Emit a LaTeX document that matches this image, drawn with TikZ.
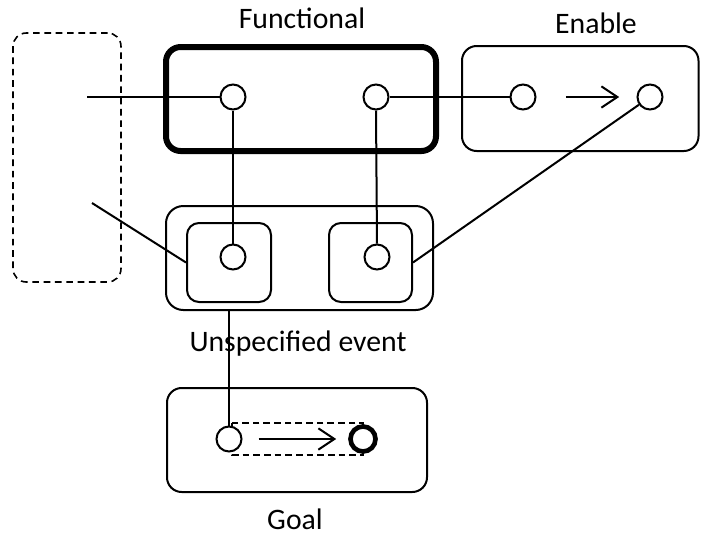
\documentclass[tikz,border=0pt]{standalone}
\usepackage{fontspec}
\setmainfont{Carlito}
\usetikzlibrary{fit,arrows.meta}
\begin{document}
\begin{tikzpicture}[x=0.75pt,y=-0.75pt,
  every path/.style={line width=1.5pt},
  frame/.style={draw, rectangle, rounded corners=11pt, inner sep=0pt, line width=1.5pt},
  smallframe/.style={frame, rounded corners=9pt},
  outline/.style={frame, dashed, dash pattern=on 5pt off 3.5pt, line width=1.2pt, rounded corners=10pt},
  heavy/.style={frame, line width=4.5pt},
  port/.style={draw, circle, fill=white, minimum size=18.75pt, inner sep=0pt, line width=1.5pt},
  target/.style={port, line width=3.5pt},
  label/.style={anchor=base, font=\fontsize{22.3}{26}\selectfont},
  flow/.style={-{Straight Barb[length=12pt,width=16pt,line width=1.5pt]}, line width=1.5pt}
]
\useasboundingbox (0,0) rectangle (701,537);

% containers
\node[outline, fit={(13,33) (121,282)}] (ext) {};
\node[heavy, fit={(166,47) (436,151)}] (func) {};
\node[frame, fit={(462,46) (698.5,151)}] (enab) {};
\node[frame, rounded corners=13pt, fit={(166,206) (433,310)}] (unsp) {};
\node[smallframe, fit={(187,223) (271,302)}] (uLbox) {};
\node[smallframe, fit={(329,223) (412,302)}] (uRbox) {};
\node[frame, fit={(167,388) (427,492)}] (goal) {};

% titles
\node[label] (tFunc) at (302,28) {Functional};
\node[label] (tEnab) at (596,33) {Enable};
\node[label] (tUnsp) at (298,351) {Unspecified event};
\node[label] (tGoal) at (295,529) {Goal};

% dashed span between the goal states
\draw[dashed, dash pattern=on 5pt off 3pt, line width=1.2pt] (232,423) rectangle (363,455);

% states
\node[port] (fL) at (233,97) {};
\node[port] (fR) at (376,97) {};
\node[port] (eL) at (523,97) {};
\node[port] (eR) at (650,97) {};
\node[port] (uL) at (233,257) {};
\node[port] (uR) at (377,257) {};
\node[port] (gL) at (229,439) {};
\node[target] (gR) at (363,439) {};

% free ends of the incoming links
\coordinate (inTop) at (87,97);
\coordinate (inLow) at (92,203);

% links
\draw (inTop) -- (fL.west);
\draw (fR.east) -- (eL.west);
\draw (fL.south) -- (uL.north);
\draw (fR.south) -- (uR.north);
\draw (inLow) -- (uLbox.west);
\draw (eR) -- (uRbox.east);
\draw (unsp.south -| gL.north) -- (gL.north);

% transitions
\draw[flow, shorten <=22pt, shorten >=13pt] (eL.east) -- (eR.west);
\draw[flow, shorten <=12pt, shorten >=9pt] (gL.east) -- (gR.west);
\end{tikzpicture}
\end{document}
